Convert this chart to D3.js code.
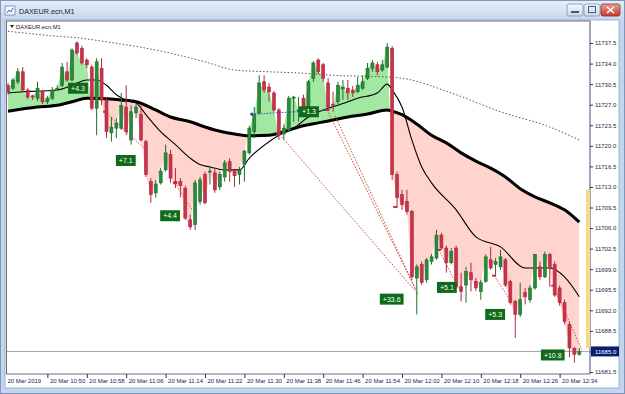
<!DOCTYPE html>
<html lang="en">
<head>
<meta charset="UTF-8">
<title>DAXEUR.ecn,M1</title>
<script src="https://d3js.org/d3.v7.min.js"></script>
<style>
  html, body { margin: 0; padding: 0; background: #fff; }
  svg { display: block; font-family: "Liberation Sans", Arial, sans-serif; }
</style>
</head>
<body>
<svg id="chart" width="625" height="394"></svg>
<script>
// one-minute candles, 10:42 .. 12:38
const open = [
  11730.3, 11729.8, 11730.9, 11732.6, 11729.5, 11728.5, 11728.1, 11729.2, 11727.5, 11728.1,
  11729.7, 11730.3, 11732.6, 11731.2, 11737.5, 11736.6, 11734.6, 11733.4, 11726.4, 11733.2,
  11727.8, 11722.2, 11723.0, 11723.0, 11726.6, 11721.0, 11725.6, 11725.3, 11720.7, 11713.9,
  11712.0, 11713.7, 11715.9, 11718.5, 11713.9, 11713.9, 11712.8, 11707.4, 11706.6, 11710.5,
  11715.1, 11715.6, 11715.4, 11713.0, 11714.7, 11717.3, 11715.6, 11715.1, 11716.8, 11718.8,
  11722.4, 11725.6, 11730.9, 11730.0, 11729.0, 11726.1, 11722.0, 11722.7, 11728.1, 11726.1,
  11728.1, 11726.1, 11731.5, 11734.6, 11733.8, 11730.7, 11727.1, 11727.5, 11729.7, 11729.8,
  11729.5, 11729.2, 11729.8, 11731.5, 11733.2, 11733.8, 11732.9, 11733.4, 11736.6, 11715.1,
  11711.7, 11710.5, 11708.8, 11697.5, 11699.8, 11697.2, 11700.3, 11700.9, 11704.8, 11702.6,
  11700.1, 11702.6, 11696.0, 11696.3, 11698.4, 11696.9, 11695.2, 11696.9, 11700.6, 11699.8,
  11699.4, 11700.6, 11696.9, 11693.5, 11691.3, 11695.0, 11693.8, 11695.8, 11699.4, 11697.7,
  11701.5, 11699.8, 11695.8, 11693.3, 11689.6, 11685.5, 11684.5
];
const high = [
  11730.7, 11731.5, 11733.2, 11733.4, 11729.8, 11728.7, 11730.9, 11729.5, 11728.5, 11730.0,
  11730.3, 11734.1, 11734.3, 11736.6, 11737.8, 11737.0, 11734.9, 11733.8, 11734.9, 11734.9,
  11728.1, 11724.9, 11724.7, 11729.0, 11730.3, 11726.9, 11727.3, 11726.9, 11721.0, 11714.5,
  11714.2, 11716.2, 11720.2, 11719.3, 11716.2, 11714.5, 11713.2, 11708.3, 11714.2, 11714.7,
  11715.6, 11716.4, 11716.2, 11715.6, 11717.6, 11717.9, 11715.9, 11716.4, 11719.3, 11723.4,
  11726.6, 11732.0, 11732.0, 11730.7, 11729.3, 11726.4, 11723.6, 11728.5, 11728.5, 11728.3,
  11728.7, 11731.2, 11734.4, 11734.9, 11734.1, 11731.5, 11729.2, 11730.9, 11731.2, 11731.2,
  11730.2, 11731.7, 11732.0, 11734.1, 11734.6, 11734.3, 11734.6, 11737.5, 11737.0, 11715.6,
  11712.5, 11712.5, 11709.1, 11699.8, 11700.3, 11700.9, 11701.6, 11705.7, 11705.2, 11703.0,
  11702.6, 11703.0, 11698.4, 11699.4, 11700.1, 11697.5, 11697.2, 11701.5, 11702.8, 11700.9,
  11702.3, 11700.9, 11697.2, 11693.8, 11696.7, 11695.8, 11696.3, 11701.6, 11700.3, 11702.0,
  11701.8, 11700.3, 11696.2, 11693.8, 11690.1, 11685.8, 11685.6
];
const low = [
  11728.7, 11729.5, 11730.5, 11729.2, 11728.0, 11727.8, 11727.6, 11727.1, 11727.1, 11727.8,
  11729.5, 11730.0, 11730.9, 11731.0, 11735.5, 11733.8, 11733.2, 11726.1, 11721.8, 11726.9,
  11721.3, 11720.7, 11721.3, 11722.7, 11721.8, 11720.2, 11724.7, 11720.7, 11714.7, 11710.3,
  11711.2, 11713.4, 11715.6, 11713.7, 11712.8, 11711.2, 11707.4, 11705.7, 11705.7, 11710.0,
  11710.0, 11713.4, 11712.0, 11712.5, 11713.9, 11713.9, 11713.0, 11713.4, 11713.9, 11718.5,
  11721.3, 11725.3, 11729.0, 11727.5, 11725.8, 11721.0, 11721.0, 11722.4, 11724.1, 11724.1,
  11725.3, 11725.8, 11730.9, 11732.2, 11730.9, 11726.1, 11725.8, 11727.1, 11727.8, 11727.8,
  11728.3, 11729.0, 11729.5, 11731.2, 11732.6, 11732.0, 11732.6, 11733.2, 11714.2, 11709.4,
  11709.1, 11708.3, 11697.2, 11691.3, 11696.3, 11696.7, 11699.8, 11700.6, 11702.3, 11698.4,
  11699.8, 11695.7, 11693.5, 11693.3, 11695.2, 11695.3, 11693.8, 11696.7, 11698.9, 11698.0,
  11698.9, 11696.0, 11693.0, 11687.3, 11690.9, 11693.0, 11693.3, 11695.5, 11697.2, 11697.5,
  11696.0, 11694.3, 11692.8, 11689.6, 11684.0, 11683.1, 11684.3
];
const close = [
  11729.2, 11731.2, 11732.6, 11729.5, 11728.3, 11728.3, 11729.8, 11727.5, 11728.1, 11729.5,
  11729.8, 11733.4, 11731.2, 11736.3, 11735.8, 11734.1, 11733.8, 11726.4, 11734.3, 11727.8,
  11722.4, 11723.2, 11723.9, 11726.9, 11722.4, 11725.8, 11726.6, 11721.0, 11715.1, 11711.7,
  11713.5, 11715.7, 11718.8, 11714.5, 11713.5, 11713.2, 11707.7, 11706.2, 11713.7, 11714.2,
  11710.3, 11715.7, 11712.5, 11715.1, 11717.1, 11715.6, 11714.9, 11715.9, 11719.1, 11723.0,
  11725.3, 11730.7, 11729.5, 11729.2, 11726.1, 11721.8, 11723.0, 11728.1, 11728.3, 11726.1,
  11725.8, 11730.9, 11734.1, 11732.6, 11731.5, 11726.6, 11726.9, 11730.3, 11730.0, 11729.0,
  11729.0, 11730.3, 11730.9, 11733.2, 11734.1, 11732.6, 11733.8, 11736.8, 11715.1, 11711.2,
  11710.0, 11708.8, 11697.7, 11699.4, 11696.7, 11700.6, 11701.1, 11704.8, 11702.6, 11700.1,
  11702.0, 11696.0, 11695.2, 11698.6, 11697.2, 11695.8, 11696.7, 11701.1, 11699.2, 11700.3,
  11701.1, 11696.3, 11693.3, 11691.3, 11693.8, 11694.3, 11695.8, 11701.5, 11697.7, 11701.5,
  11699.2, 11694.6, 11693.3, 11690.1, 11685.6, 11684.5, 11685.0
];

// moving averages at bar positions
const slowIdx = [0, 6, 10, 13, 16, 20, 23, 26, 30, 33, 37, 40, 42, 46, 49, 53, 56, 59, 63, 66, 69, 73, 77, 78, 80, 83, 86, 89, 92, 95, 98, 101, 104, 107, 110, 113, 116];
const slowMA = [11725.9, 11726.6, 11726.9, 11727.5, 11728.1, 11728.0, 11727.8, 11727.5, 11726.1, 11724.9, 11724.1, 11723.2, 11722.7, 11722.0, 11721.7, 11721.8, 11722.4, 11723.2, 11723.9, 11724.4, 11724.9, 11725.4, 11726.1, 11725.9, 11725.3, 11723.7, 11721.8, 11720.5, 11718.8, 11717.4, 11716.2, 11714.7, 11712.7, 11711.3, 11710.3, 11709.1, 11707.0];

const fastIdx = [0, 3, 6, 10, 13, 16, 18, 20, 22, 25, 26, 28, 31, 34, 37, 39, 41, 44, 47, 49, 53, 55, 58, 61, 65, 67, 71, 75, 77, 78, 80, 82, 84, 86, 91, 95, 100, 105, 107, 110, 113, 116];
const fastMA = [11729.0, 11729.2, 11729.3, 11729.5, 11730.3, 11731.2, 11731.2, 11730.3, 11728.7, 11727.5, 11727.3, 11725.3, 11722.4, 11720.2, 11717.9, 11716.8, 11716.4, 11715.9, 11715.9, 11717.9, 11720.7, 11721.8, 11723.0, 11724.9, 11726.4, 11726.9, 11728.1, 11729.0, 11730.5, 11729.5, 11726.6, 11721.0, 11716.4, 11713.7, 11709.1, 11704.5, 11702.8, 11699.2, 11699.2, 11699.2, 11697.7, 11694.3];

const longIdx = [0, 8, 15, 20, 30, 40, 46, 53, 59, 66, 77, 80, 90, 100, 110, 116];
const longMA = [11739.5, 11738.8, 11738.3, 11737.7, 11736.3, 11734.3, 11732.9, 11732.6, 11732.4, 11732.0, 11731.7, 11731.5, 11729.0, 11725.8, 11723.2, 11721.0];

const priceTicks = [11737.5, 11734.0, 11730.5, 11727.0, 11723.5, 11720.0, 11716.5, 11713.0, 11709.5, 11706.0, 11702.5, 11699.0, 11695.5, 11692.0, 11688.5, 11685.0, 11681.5];
const timeTickIdx = [0, 8, 16, 24, 32, 40, 48, 56, 64, 72, 80, 88, 96, 104, 112];
const timeLabels = ["20 Mar 2019", "20 Mar 10:50", "20 Mar 10:58", "20 Mar 11:06", "20 Mar 11:14", "20 Mar 11:22", "20 Mar 11:30", "20 Mar 11:38", "20 Mar 11:46", "20 Mar 11:54", "20 Mar 12:02", "20 Mar 12:10", "20 Mar 12:18", "20 Mar 12:26", "20 Mar 12:34"];
const lastPrice = 11685.0;
const rangeBar = [11685.6, 11712.5];

// closed trades: entry bar, entry price, exit bar, exit price
const tradeFrom = [[19.7, 11725.8], [33.9, 11713.7], [55.6, 11721.5], [64.8, 11726.1], [66.4, 11725.1], [87.5, 11702.3], [98.7, 11697.9], [110.7, 11696.2]];
const tradeTo   = [[28.0, 11719.3], [37.4, 11709.1], [82.8, 11695.2], [82.8, 11695.5], [83.2, 11694.8], [90.8, 11696.9], [101.9, 11693.8], [116.5, 11685.3]];
const buyFrom = [49.5, 11725.4], buyTo = [65.4, 11726.1];
const entryMarks = [[19.7, 11725.8], [33.9, 11713.7], [54.8, 11722.2], [64.8, 11726.1], [78.6, 11709.6], [87.5, 11702.3], [98.7, 11697.9], [110.7, 11696.2]];

const profitText  = ["+4.3", "+7.1", "+4.4", "+1.3", "+33.6", "+5.1", "+5.3", "+10.8"];
const profitIdx   = [12.2, 21.9, 30.9, 59.1, 75.5, 87.1, 96.9, 108.2];
const profitPrice = [11729.8, 11717.5, 11708.1, 11725.8, 11693.9, 11695.9, 11691.3, 11684.4];

const svg = d3.select("#chart");
const W = 625, H = 394;
const plot = { left: 7, right: 590, top: 21, bottom: 374 };

const x = d3.scaleLinear().domain([0, 116]).range([8, 579.3]);
const y = d3.scaleLinear().domain([11681.5, 11737.5]).range([372, 43]);

const defs = svg.append("defs");

// ---- window chrome ----
svg.append("rect").attr("width", W).attr("height", H).attr("fill", "#c3d6ee");
const tb = defs.append("linearGradient").attr("id", "tb").attr("x1", 0).attr("y1", 0).attr("x2", 0).attr("y2", 1);
tb.append("stop").attr("offset", "0%").attr("stop-color", "#e6eff9");
tb.append("stop").attr("offset", "100%").attr("stop-color", "#c4d7ef");
svg.append("rect").attr("width", W).attr("height", 20).attr("fill", "url(#tb)");
svg.append("rect").attr("x", 0.5).attr("y", 0.5).attr("width", W - 1).attr("height", H - 1)
  .attr("fill", "none").attr("stroke", "#8097b6");

// title icon
svg.append("rect").attr("x", 5).attr("y", 6).attr("width", 10).attr("height", 9)
  .attr("fill", "#f4f7fb").attr("stroke", "#6f86a6").attr("stroke-width", 0.8);
svg.append("path").attr("d", "M7,13 L9,10 L11,12 L13,8").attr("fill", "none")
  .attr("stroke", "#2f6fb6").attr("stroke-width", 1);
svg.append("text").attr("x", 19).attr("y", 14).attr("font-size", 7.2).attr("fill", "#1b1b1b")
  .text("DAXEUR.ecn,M1");

// caption buttons
const bg = defs.append("linearGradient").attr("id", "btn").attr("x1", 0).attr("y1", 0).attr("x2", 0).attr("y2", 1);
bg.append("stop").attr("offset", "0%").attr("stop-color", "#f3f7fc");
bg.append("stop").attr("offset", "100%").attr("stop-color", "#c9d8ec");
const rg = defs.append("linearGradient").attr("id", "cls").attr("x1", 0).attr("y1", 0).attr("x2", 0).attr("y2", 1);
rg.append("stop").attr("offset", "0%").attr("stop-color", "#e9a196");
rg.append("stop").attr("offset", "100%").attr("stop-color", "#c4392c");
svg.append("rect").attr("x", 567).attr("y", 4).attr("width", 16).attr("height", 12).attr("rx", 2)
  .attr("fill", "url(#btn)").attr("stroke", "#7f94b3").attr("stroke-width", 0.8);
svg.append("rect").attr("x", 571).attr("y", 11).attr("width", 8).attr("height", 2).attr("fill", "#445a7a");
svg.append("rect").attr("x", 584).attr("y", 4).attr("width", 16).attr("height", 12).attr("rx", 2)
  .attr("fill", "url(#btn)").attr("stroke", "#7f94b3").attr("stroke-width", 0.8);
svg.append("rect").attr("x", 588.5).attr("y", 6.5).attr("width", 7).attr("height", 6)
  .attr("fill", "none").attr("stroke", "#445a7a").attr("stroke-width", 1);
svg.append("rect").attr("x", 601).attr("y", 4).attr("width", 19).attr("height", 12).attr("rx", 2)
  .attr("fill", "url(#cls)").attr("stroke", "#8e2b22").attr("stroke-width", 0.8);
svg.append("path").attr("d", "M607,7 L614,13 M614,7 L607,13").attr("stroke", "#fff").attr("stroke-width", 1.6);

// inner white client area
svg.append("rect").attr("x", 5).attr("y", 20).attr("width", 614).attr("height", 368)
  .attr("fill", "#fff").attr("stroke", "#8ea4c2").attr("stroke-width", 0.8);

// ---- chart ----
const closePts = close.map((c, i) => [i, c]);
const slowPts = slowIdx.map((d, k) => [d, slowMA[k]]);
const fastPts = fastIdx.map((d, k) => [d, fastMA[k]]);
const longPts = longIdx.map((d, k) => [d, longMA[k]]);

defs.append("clipPath").attr("id", "plotClip").append("rect")
  .attr("x", plot.left).attr("y", plot.top).attr("width", 583 - plot.left).attr("height", plot.bottom - plot.top);

const aboveSlow = d3.area().curve(d3.curveMonotoneX).x(d => x(d[0])).y0(plot.top).y1(d => y(d[1]));
const belowSlow = d3.area().curve(d3.curveMonotoneX).x(d => x(d[0])).y0(plot.bottom).y1(d => y(d[1]));
const aboveClose = d3.area().x(d => x(d[0])).y0(plot.top).y1(d => y(d[1]));
const belowClose = d3.area().x(d => x(d[0])).y0(plot.bottom).y1(d => y(d[1]));

defs.append("clipPath").attr("id", "clipAboveSlow").append("path").attr("d", aboveSlow(slowPts));
defs.append("clipPath").attr("id", "clipAboveClose").append("path").attr("d", aboveClose(closePts));

const fills = svg.append("g").attr("clip-path", "url(#plotClip)");
fills.append("g").attr("clip-path", "url(#clipAboveSlow)")
  .append("path").attr("d", belowClose(closePts)).attr("fill", "#a2e7a2");
fills.append("g").attr("clip-path", "url(#clipAboveClose)")
  .append("path").attr("d", belowSlow(slowPts)).attr("fill", "#ffd3ce");

// current price line
svg.append("line").attr("x1", plot.left).attr("x2", plot.right)
  .attr("y1", y(lastPrice)).attr("y2", y(lastPrice)).attr("stroke", "#a3a3a3").attr("stroke-width", 1);

const lineGen = d3.line().curve(d3.curveMonotoneX).x(d => x(d[0])).y(d => y(d[1]));
svg.append("path").attr("d", lineGen(longPts)).attr("fill", "none")
  .attr("stroke", "#444").attr("stroke-width", 0.9).attr("stroke-dasharray", "1.5,2");
svg.append("path").attr("d", lineGen(slowPts)).attr("fill", "none")
  .attr("stroke", "#000").attr("stroke-width", 3);
svg.append("path").attr("d", lineGen(fastPts)).attr("fill", "none")
  .attr("stroke", "#000").attr("stroke-width", 1.1);

// candles
const upCol = "#1f6e2c", dnCol = "#b3283f";
const candles = svg.append("g").selectAll("g").data(close).join("g");
candles.append("line")
  .attr("x1", (d, i) => x(i)).attr("x2", (d, i) => x(i))
  .attr("y1", (d, i) => y(high[i])).attr("y2", (d, i) => y(low[i]))
  .attr("stroke", (d, i) => close[i] >= open[i] ? upCol : dnCol).attr("stroke-width", 1);
candles.append("rect")
  .attr("x", (d, i) => x(i) - 1.5).attr("width", 3)
  .attr("y", (d, i) => y(Math.max(open[i], close[i])))
  .attr("height", (d, i) => Math.max(1, Math.abs(y(open[i]) - y(close[i]))))
  .attr("fill", (d, i) => close[i] >= open[i] ? "#2a8a3a" : "#c8324b")
  .attr("stroke", (d, i) => close[i] >= open[i] ? upCol : dnCol).attr("stroke-width", 0.6);

// trade history
svg.append("g").selectAll("line").data(tradeFrom).join("line")
  .attr("x1", d => x(d[0])).attr("y1", d => y(d[1]))
  .attr("x2", (d, k) => x(tradeTo[k][0])).attr("y2", (d, k) => y(tradeTo[k][1]))
  .attr("stroke", "#c0392b").attr("stroke-width", 0.9).attr("stroke-dasharray", "1.5,1.5");
svg.append("line").attr("x1", x(buyFrom[0])).attr("y1", y(buyFrom[1]))
  .attr("x2", x(buyTo[0])).attr("y2", y(buyTo[1]))
  .attr("stroke", "#2244aa").attr("stroke-width", 0.9).attr("stroke-dasharray", "1.5,1.5");
svg.append("circle").attr("cx", x(buyFrom[0])).attr("cy", y(buyFrom[1])).attr("r", 1.6).attr("fill", "#2244aa");
svg.append("g").selectAll("rect").data(entryMarks).join("rect")
  .attr("x", d => x(d[0]) - 2).attr("y", d => y(d[1]) - 1).attr("width", 4).attr("height", 2)
  .attr("fill", "#d0283a");

// profit labels
const lab = svg.append("g").selectAll("g").data(profitText).join("g")
  .attr("transform", (d, k) => `translate(${x(profitIdx[k])},${y(profitPrice[k])})`);
lab.append("rect").attr("y", -5.5).attr("height", 11).attr("fill", "#0f6a1a");
lab.append("text").attr("x", 3).attr("y", 2.6).attr("font-size", 7).attr("fill", "#fff").text(d => d);
lab.each(function () {
  const g = d3.select(this);
  const w = g.select("text").node().getComputedTextLength();
  g.select("rect").attr("width", w + 6);
});

// frame
svg.append("rect").attr("x", plot.left - 0.5).attr("y", plot.top).attr("width", plot.right - plot.left + 0.5)
  .attr("height", plot.bottom - plot.top).attr("fill", "none").attr("stroke", "#6d6d7d").attr("stroke-width", 1);
svg.append("line").attr("x1", plot.right).attr("x2", plot.right).attr("y1", plot.top).attr("y2", plot.bottom)
  .attr("stroke", "#9d9dbd").attr("stroke-width", 1.4);

// yellow range strip on the price scale
svg.append("rect").attr("x", plot.right - 4).attr("width", 4)
  .attr("y", y(rangeBar[1])).attr("height", y(rangeBar[0]) - y(rangeBar[1])).attr("fill", "#f7d98e");

// legend
svg.append("path").attr("d", "M10,25 L14,25 L12,28 Z").attr("fill", "#222");
svg.append("text").attr("x", 16).attr("y", 29).attr("font-size", 5.8).attr("fill", "#222").text("DAXEUR.ecn,M1");

// price axis
const yAxis = svg.append("g").attr("transform", `translate(${plot.right},0)`)
  .call(d3.axisRight(y).tickValues(priceTicks).tickSize(3).tickPadding(2).tickFormat(d3.format(".1f")));
yAxis.select(".domain").remove();
yAxis.selectAll("line").attr("stroke", "#333");
yAxis.selectAll("text").attr("font-size", 6).attr("fill", "#1c1c4e").attr("font-family", "Liberation Sans, Arial, sans-serif");

// last price tag
const tag = svg.append("g").attr("transform", `translate(${plot.right + 1},${y(lastPrice)})`);
tag.append("rect").attr("x", 0).attr("y", -5).attr("width", 28).attr("height", 10).attr("fill", "#0c1f6e");
tag.append("text").attr("x", 4).attr("y", 2.2).attr("font-size", 6).attr("fill", "#fff").text(d3.format(".1f")(lastPrice));

// time axis
const xAxis = svg.append("g").attr("transform", `translate(0,${plot.bottom})`)
  .call(d3.axisBottom(x).tickValues(timeTickIdx).tickSize(4).tickFormat((d, k) => timeLabels[k]));
xAxis.select(".domain").remove();
xAxis.selectAll("line").attr("stroke", "#333");
xAxis.selectAll("text").attr("font-size", 6).attr("fill", "#1c1c4e").attr("text-anchor", "start")
  .attr("x", 2).attr("y", 5).attr("font-family", "Liberation Sans, Arial, sans-serif");
xAxis.selectAll(".tick").filter(d => d === 0).select("line").remove();
xAxis.selectAll(".tick").filter(d => d === 0).select("text").attr("x", -1);
</script>
</body>
</html>
